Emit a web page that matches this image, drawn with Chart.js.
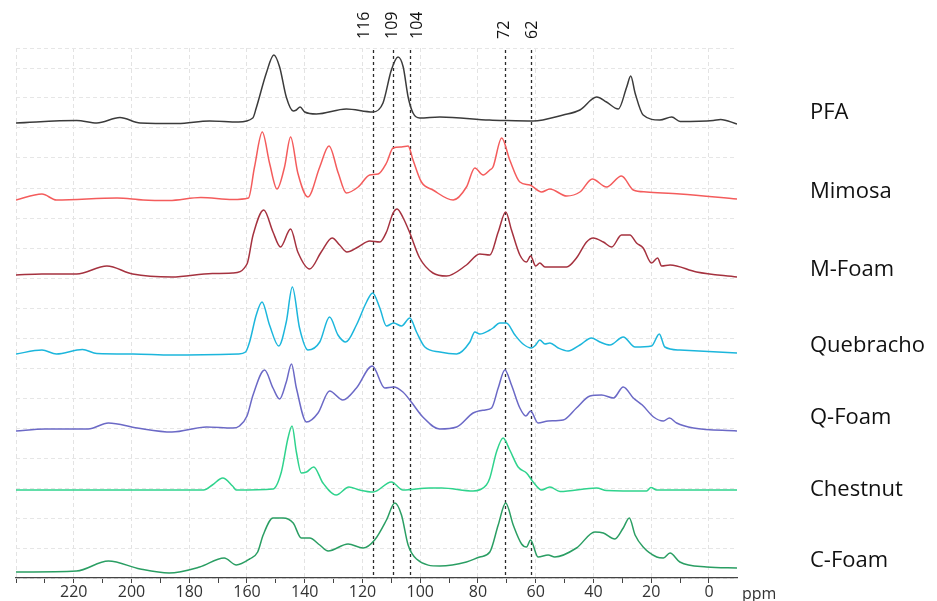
<!DOCTYPE html>
<html>
<head>
<meta charset="utf-8">
<script src="https://cdn.jsdelivr.net/npm/chart.js@4.4.1/dist/chart.umd.min.js"></script>
<style>
  body { margin: 0; background: #fff; }
  canvas { display: block; }
</style>
</head>
<body>
<canvas id="graph" width="937" height="601"></canvas>
<script>
// stacked 13C spectra, ppm axis runs right to left
const seriesNames = ["PFA", "Mimosa", "M-Foam", "Quebracho", "Q-Foam", "Chestnut", "C-Foam"];
const seriesColors = ["#3b3b3b", "#f45c5c", "#a5323f", "#1cb6dc", "#6b69c6", "#2fd38d", "#2a9e63"];
// vertical offset of each trace baseline
const offsets = [455, 378, 302, 224, 147, 88, 6];

const pfaPpm = [240, 219, 212, 204, 197, 184, 173, 163, 158, 156.8, 153.3, 150.7, 148.7, 146.4, 144, 142.9, 141.6, 140, 136, 125.6, 116.4, 112.9, 110, 107.7, 105.9, 104.2, 102.5, 100.2, 93.2, 76, 70.7, 60.9, 50.5, 44.7, 38.9, 35.5, 31.4, 28.5, 27.1, 25.6, 22.8, 17, 12.9, 10, -1.5, -4, -9.7];
const pfaInt = [0, 2.5, 0, 5.5, 0, -0.5, 2, 1, 5, 15, 50, 68, 56, 26, 12, 13, 16, 11, 9, 14, 11, 20, 53, 66, 56, 26, 10, 5, 6, 3, 2.5, 2, 8, 13, 26, 21, 14, 36, 47, 30, 8, 3, 6, 1.5, 2.5, 3.5, -1];

const mimPpm = [240, 231, 226, 205, 196, 187, 176, 165, 159.5, 157.4, 154.7, 152.2, 149.6, 147, 144.9, 142.4, 138.9, 134.8, 131.6, 128.4, 125.6, 121.5, 117.5, 114.6, 111.7, 109.4, 106.5, 104.2, 102.5, 99.6, 95.6, 88.6, 84, 81.1, 78.2, 75.9, 74.8, 71.8, 69, 65.5, 62, 58, 55.1, 49.3, 44.7, 40.4, 35.5, 30.3, 26.2, 21.6, 10, -9.7];
const mimInt = [0, 6, 0, 2, 0, -0.5, 2.5, 0.5, 2, 33, 68, 37, 11, 33, 63, 27, 3, 33, 54, 27, 7, 13, 25, 26, 37, 52, 53, 54, 40, 18, 10, 0, 13, 32, 25, 30, 33, 62, 40, 18, 15, 8, 11, 4, 8, 21, 13, 24, 10, 8, 6, 1];

const mfPpm = [240, 231, 219, 208.5, 199.6, 186, 172, 165, 160, 157.9, 154.2, 151, 148.4, 144.9, 142.4, 138.3, 134.3, 130.5, 127.9, 125.4, 121.5, 117.5, 114, 111.7, 109.4, 108, 105.9, 103.6, 100.2, 95.6, 90.9, 84, 79.4, 75.9, 73, 70.4, 68.4, 65.5, 63.2, 61.8, 60, 58.6, 56.8, 49.3, 45.9, 42.4, 40.1, 36.6, 33.7, 30.3, 27.4, 25.1, 22.8, 19.9, 17.8, 16.4, 13.5, 4.3, -9.7];
const mfInt = [1, 2, 2, 10, 2, -1, 2.5, 3, 12, 41, 66, 44, 29, 47, 24, 7, 24, 38, 31, 24, 29, 35, 34, 44, 63, 67, 58, 43, 18, 3, 0, 11, 22, 21, 44, 64, 46, 21, 14, 20, 10, 13, 9, 9, 18, 34, 38, 34, 29, 41, 41, 33, 28, 13, 18, 10, 11, 4, -1];

const quePpm = [240, 231, 226, 217, 212, 199.5, 186, 163, 160.5, 159.1, 156.8, 154.8, 152.2, 149, 146.4, 144.3, 141.8, 138.9, 134.8, 131.4, 128.5, 125.8, 122.1, 118.6, 116.5, 114, 111.7, 109.2, 106.5, 103.6, 101.3, 98.4, 93.2, 87.4, 82.8, 81.1, 79.4, 75.9, 74.8, 72.5, 70.2, 67.2, 64.4, 61.5, 60, 58.6, 56.8, 55.1, 52.2, 48.8, 44.7, 40.7, 37.8, 34.3, 29.7, 25.6, 19.9, 17.2, 15.3, 10.1, -9.7];
const queInt = [0, 4, 0, 4.5, 0.5, 0, -1, 0, 2, 12, 39, 52, 29, 8, 32, 67, 26, 4, 12, 37, 19, 12, 29, 52, 61, 46, 28, 31, 28, 36, 22, 7, 2, 0, 12, 22, 20, 24, 26, 31, 31, 19, 10, 6, 9, 14, 10, 11, 6, 3, 9, 16, 12, 9, 17, 7, 8, 20, 7, 4, 1];

const qfPpm = [240, 230, 215, 208, 198, 186, 174, 165, 162.6, 160, 157.9, 153.9, 151, 148.7, 146.4, 144.6, 142.9, 139.4, 135.4, 131.4, 126.8, 122.1, 116.6, 112.3, 109.2, 106, 103.1, 99.1, 93.3, 87.4, 81.7, 77.5, 75.3, 73, 70.7, 68.4, 65.5, 63.4, 61.8, 59.2, 55.7, 50.5, 45.9, 41.2, 37.2, 33.1, 29.7, 26.2, 23.1, 19.2, 15.8, 13.7, 11.2, 5.4, -9.7];
const qfInt = [0, 2, 2, 8, 3, -1, 4, 3, 5, 15, 36, 61, 43, 32, 49, 67, 43, 9, 18, 40, 31, 43, 65, 43, 44, 39, 29, 14, 2, 4, 18, 21, 23, 43, 61, 46, 23, 15, 20, 8, 10, 11, 23, 35, 36, 33, 44, 33, 26, 14, 10, 13, 8, 3, 0];

const chePpm = [240, 200, 175, 172, 168.4, 165, 163.7, 151, 148.1, 145.8, 144.4, 142.9, 141.2, 139.4, 136.9, 133.7, 129.1, 124.7, 121, 116.3, 110, 106, 96.7, 92.6, 81.7, 77.1, 75.9, 73.6, 71.3, 69, 66.1, 63.2, 60.9, 58, 55.1, 51.6, 38.9, 35.5, 21.6, 20.1, 18.1, -9.7];
const cheInt = [0, 0, 0, 5, 12, 4, 0, 1, 18, 52, 64, 38, 17, 18, 23, 7, -5, 3, 0, -2, 8, 0, 2, 2, -1, 5, 12, 38, 52, 40, 23, 17, 8, 0, 3, -1.5, 2, -0.5, -1, 2.5, 0, 0];

const cfPpm = [240, 219, 208, 197, 187, 176.4, 167.9, 163.7, 159.1, 156.3, 154.4, 151, 147.5, 144, 141.2, 138.3, 134.8, 131.9, 125, 119.8, 115.8, 111.7, 108.8, 106.5, 104.2, 101.3, 93.2, 84, 79.4, 75.9, 73, 70.4, 67.8, 64.9, 63.2, 61.8, 59.2, 55.7, 53.4, 45.9, 39.5, 36.6, 32.6, 29.7, 27.6, 25.6, 22.8, 18.1, 15.8, 13.5, 10.1, 0.8, -9.7];
const cfInt = [0, 1, 11, 3, -1, 5, 14, 7, 13, 20, 37, 54, 54, 49, 34, 34, 27, 21, 28, 24, 32, 52, 69, 57, 27, 13, 6, 10, 15, 20, 47, 69, 47, 28, 25, 32, 15, 17, 15, 24, 40, 39, 33, 44, 54, 37, 25, 15, 14, 19, 10, 5, 4];

const seriesPpm = [pfaPpm, mimPpm, mfPpm, quePpm, qfPpm, chePpm, cfPpm];
const seriesInt = [pfaInt, mimInt, mfInt, queInt, qfInt, cheInt, cfInt];

// reference lines (position) and their labels
const markerPpm = [116.5, 109.5, 103.6, 70.8, 61.7];
const markerLabels = ["116", "109", "104", "72", "62"];

// axis: minor ticks every 10, labels every 20
const xTickValues = [240, 230, 220, 210, 200, 190, 180, 170, 160, 150, 140, 130, 120, 110, 100, 90, 80, 70, 60, 50, 40, 30, 20, 10, 0];
const xTickLabels = ["220", "200", "180", "160", "140", "120", "100", "80", "60", "40", "20", "0"];
const xMin = -9.7;
const xMax = 240;

// layout-only constants
const labelLevels = [465, 386, 308, 232, 160, 88, 17];
const markerLabelShift = [-8, 0, 8, 0, 2];
const FONT = "'Open Sans', 'DejaVu Sans', sans-serif";

const datasets = seriesNames.map((name, i) => ({
  label: name,
  data: seriesPpm[i].map((p, j) => ({ x: p, y: offsets[i] + seriesInt[i][j] })),
  borderColor: seriesColors[i],
  borderWidth: 1.5,
  pointRadius: 0,
  cubicInterpolationMode: "monotone",
  fill: false,
}));

const overlay = {
  id: "overlay",
  beforeDatasetsDraw(chart) {
    const { ctx, chartArea, scales } = chart;
    ctx.save();
    ctx.lineWidth = 1.3;
    ctx.setLineDash([3, 3]);
    markerPpm.forEach((p) => {
      const x = Math.round(scales.x.getPixelForValue(p)) + 0.5;
      ctx.strokeStyle = "#2a2a2a";
      ctx.beginPath();
      ctx.moveTo(x, chartArea.top + 2);
      ctx.lineTo(x, chartArea.bottom);
      ctx.stroke();
    });
    ctx.restore();
  },
  afterDraw(chart) {
    const { ctx, chartArea, scales } = chart;
    ctx.save();
    // rotated labels above the dashed lines
    ctx.fillStyle = "#111";
    ctx.font = "16px " + FONT;
    ctx.textAlign = "left";
    ctx.textBaseline = "middle";
    markerPpm.forEach((p, i) => {
      const x = scales.x.getPixelForValue(p) + markerLabelShift[i];
      ctx.save();
      ctx.translate(x, 39);
      ctx.rotate(-Math.PI / 2);
      ctx.fillText(markerLabels[i], 0, 0);
      ctx.restore();
    });
    // sample names on the right
    ctx.font = "22px " + FONT;
    ctx.fillStyle = "#111";
    seriesNames.forEach((name, i) => {
      ctx.fillText(name, 810, scales.y.getPixelForValue(labelLevels[i]));
    });
    // axis unit
    ctx.font = "16px " + FONT;
    ctx.fillStyle = "#333";
    ctx.fillText("ppm", chartArea.right + 5, 594);
    ctx.restore();
  },
};

new Chart(document.getElementById("graph"), {
  type: "line",
  data: { datasets },
  options: {
    responsive: false,
    animation: false,
    devicePixelRatio: 1,
    layout: { padding: { left: 16, right: 200, top: 48, bottom: 0 } },
    plugins: { legend: { display: false }, tooltip: { enabled: false } },
    scales: {
      x: {
        type: "linear",
        reverse: true,
        min: xMin,
        max: xMax,
        afterBuildTicks: (scale) => {
          scale.ticks = xTickValues.map((v) => ({ value: v }));
        },
        ticks: {
          autoSkip: false,
          maxRotation: 0,
          padding: 5,
          color: "#333",
          font: { family: FONT, size: 16, lineHeight: 0.5 },
          callback: (v) => (xTickLabels.includes(String(v)) ? String(v) : ""),
        },
        grid: {
          color: (c) => (c.tick && c.tick.value % 20 === 0 ? "#e3e3e3" : "rgba(0,0,0,0)"),
          tickColor: "#444",
          tickLength: 5,
          lineWidth: 1,
        },
        border: { display: true, color: "#444", width: 1.2, dash: [4, 3] },
      },
      y: {
        min: 0,
        max: 530,
        ticks: { display: false, stepSize: 30 },
        grid: { color: "#e6e6e6", drawTicks: false },
        border: { display: false, dash: [4, 3] },
      },
    },
  },
  plugins: [overlay],
});
</script>
</body>
</html>
